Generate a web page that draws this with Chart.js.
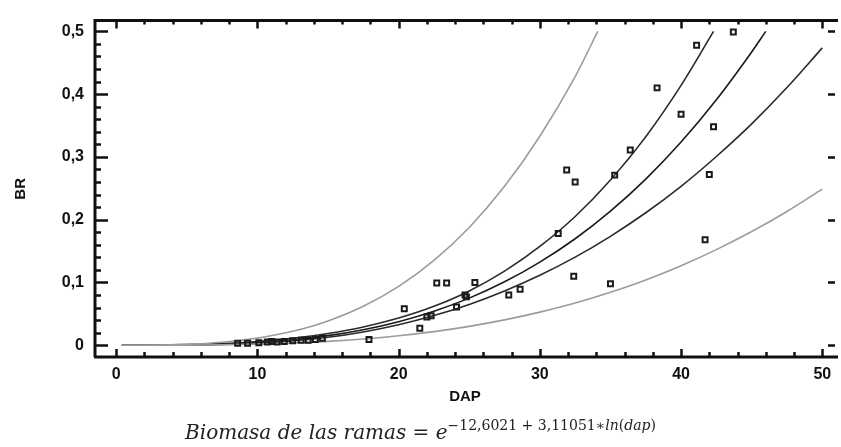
<!DOCTYPE html>
<html>
<head>
<meta charset="utf-8">
<script src="https://cdn.jsdelivr.net/npm/chart.js@4/dist/chart.umd.min.js"></script>
<style>
  html, body { margin: 0; padding: 0; background: #fff; }
  #wrap { position: relative; width: 841px; height: 447px; }
  #caption {
    position: absolute; left: 0; top: 417px; width: 841px; text-align: center;
    font-family: "DejaVu Serif", serif; font-size: 20px; color: #222; white-space: nowrap;
  }
  #caption sup { font-size: 14px; font-style: normal; vertical-align: 9px; }
</style>
</head>
<body>
<div id="wrap">
  <canvas id="brChart" width="841" height="447"></canvas>
  <div id="caption"><i>Biomasa de las ramas</i> = <i>e</i><sup>−12,6021 + 3,11051∗<i>ln</i>(<i>dap</i>)</sup></div>
</div>
<script>
// observaciones (DAP, BR)
const dapObs = [8.6, 9.3, 10.1, 10.7, 11.0, 11.4, 11.9, 12.5, 13.1, 13.6, 14.1, 14.6,
  17.9, 20.4, 21.5, 22.0, 22.3, 22.7, 23.4, 24.1, 24.7, 24.8, 25.4, 27.8, 28.6,
  31.3, 31.9, 32.4, 32.5, 35.0, 35.3, 36.4, 38.3, 40.0, 41.1, 41.7, 42.0, 42.3, 43.7];
const brObs = [0.003, 0.003, 0.004, 0.005, 0.006, 0.005, 0.006, 0.007, 0.008, 0.008, 0.009, 0.011,
  0.009, 0.058, 0.027, 0.045, 0.047, 0.099, 0.099, 0.061, 0.080, 0.077, 0.100, 0.080, 0.089,
  0.178, 0.279, 0.110, 0.260, 0.098, 0.271, 0.311, 0.410, 0.368, 0.478, 0.168, 0.272, 0.348, 0.499];

// curvas: ajuste, límites de confianza y de predicción
const dapGrid = [0.4, 2.5, 5, 7.5, 10, 12.5, 15, 17.5, 20, 22.5, 25, 27.5, 30, 32.5, 35, 37.5, 40, 42.5, 45, 47.5, 50];
const fitBR = [0, 0.00006, 0.0005, 0.0018, 0.0043, 0.0087, 0.0153, 0.0247, 0.0375, 0.0541, 0.0750,
  0.1010, 0.1324, 0.1696, 0.2137, 0.2647, 0.3237, 0.3910, 0.4672];
const fitEnd = [46, 0.5];
const confLowBR = [0, 0.00003, 0.0003, 0.0012, 0.0032, 0.0068, 0.0126, 0.0211, 0.0325, 0.0472, 0.0650,
  0.0865, 0.1115, 0.1403, 0.1735, 0.2110, 0.2531, 0.3007, 0.3527, 0.4105, 0.4737];
const confHighBR = [0, 0.0001, 0.0009, 0.0026, 0.0059, 0.0111, 0.0186, 0.0290, 0.0432, 0.0620, 0.0865,
  0.1180, 0.1573, 0.2050, 0.2633, 0.3322, 0.4140];
const confHighEnd = [42.3, 0.5];
const predLowBR = [0, 0.00002, 0.00017, 0.00066, 0.00167, 0.0034, 0.0061, 0.0099, 0.0150, 0.0216, 0.0300,
  0.0403, 0.0527, 0.0672, 0.0844, 0.1040, 0.1267, 0.1523, 0.1811, 0.2131, 0.2486];
const predHighBR = [0, 0.0002, 0.0014, 0.0048, 0.0113, 0.0222, 0.0387, 0.0620, 0.0937, 0.1352, 0.1876,
  0.2531, 0.3329, 0.4279];
const predHighEnd = [34.1, 0.5];

// ejes
const xTicks = [0, 10, 20, 30, 40, 50];
const xTickLabels = ["0", "10", "20", "30", "40", "50"];
const yTicks = [0, 0.1, 0.2, 0.3, 0.4, 0.5];
const yTickLabels = ["0", "0,1", "0,2", "0,3", "0,4", "0,5"];

const toPoints = (vals, end) => {
  const pts = vals.map((v, i) => ({ x: dapGrid[i], y: v }));
  if (end) pts.push({ x: end[0], y: end[1] });
  return pts;
};

const curve = (data, color, order) => ({
  type: "line",
  data,
  borderColor: color,
  borderWidth: 1.6,
  pointRadius: 0,
  fill: false,
  cubicInterpolationMode: "monotone",
  order,
});

// marco y marcas hacia dentro
const frameTicks = {
  id: "frameTicks",
  afterDraw(chart) {
    const { ctx, chartArea: a, scales: { x, y } } = chart;
    ctx.save();
    ctx.strokeStyle = "#111";
    ctx.lineWidth = 3;
    ctx.beginPath();
    ctx.moveTo(a.left, a.bottom);
    ctx.lineTo(a.left, a.top);
    ctx.lineTo(a.right + 3, a.top);
    ctx.moveTo(a.left - 1, a.bottom);
    ctx.lineTo(a.right + 3, a.bottom);
    ctx.stroke();

    ctx.lineWidth = 2.5;
    ctx.beginPath();
    for (let i = 0; i <= 25; i++) {
      const px = Math.round(x.getPixelForValue(i * 2)) + 0.5;
      const major = i % 5 === 0;
      ctx.moveTo(px, a.bottom);
      ctx.lineTo(px, a.bottom - (major ? 8 : 5));
      ctx.moveTo(px, a.top);
      ctx.lineTo(px, a.top + (major ? 8 : 4));
    }
    for (let i = 0; i <= 25; i++) {
      const py = Math.round(y.getPixelForValue(i * 0.02)) + 0.5;
      const major = i % 5 === 0;
      ctx.moveTo(a.left, py);
      ctx.lineTo(a.left + (major ? 13 : 6), py);
      if (major) {
        ctx.moveTo(a.right, py);
        ctx.lineTo(a.right - 7, py);
      }
    }
    ctx.stroke();
    ctx.restore();
  },
};

const tickFont = { family: "Liberation Sans", size: 16, weight: "bold" };

new Chart(document.getElementById("brChart"), {
  type: "scatter",
  data: {
    datasets: [
      {
        data: dapObs.map((d, i) => ({ x: d, y: brObs[i] })),
        pointStyle: "rect",
        pointRadius: 3.5,
        borderWidth: 2,
        borderColor: "#1a1a1a",
        backgroundColor: "rgba(255,255,255,0)",
        order: 0,
      },
      curve(toPoints(predLowBR), "#9c9c9c", 1),
      curve(toPoints(predHighBR, predHighEnd), "#9c9c9c", 1),
      curve(toPoints(confLowBR), "#2a2a2a", 2),
      curve(toPoints(fitBR, fitEnd), "#1a1a1a", 2),
      curve(toPoints(confHighBR, confHighEnd), "#2a2a2a", 2),
    ],
  },
  options: {
    responsive: false,
    animation: false,
    layout: { padding: { top: 15, right: 0, left: 0, bottom: 0 } },
    plugins: { legend: { display: false }, tooltip: { enabled: false } },
    scales: {
      x: {
        type: "linear",
        min: -1.5,
        max: 50.9,
        afterBuildTicks: (s) => { s.ticks = xTicks.map((v) => ({ value: v })); },
        afterFit: (s) => { s.height = 90; },
        grid: { display: false, drawTicks: false },
        border: { display: false },
        ticks: {
          padding: 8,
          color: "#111",
          font: tickFont,
          callback: (v) => xTickLabels[xTicks.indexOf(v)],
        },
        title: {
          display: true,
          text: "DAP",
          color: "#111",
          font: { family: "Liberation Sans", size: 15, weight: "bold" },
          padding: { top: 0, bottom: 41 },
        },
      },
      y: {
        type: "linear",
        min: -0.0188,
        max: 0.5172,
        afterBuildTicks: (s) => { s.ticks = yTicks.map((v) => ({ value: v })); },
        afterFit: (s) => { s.width = 95; },
        grid: { display: false, drawTicks: false },
        border: { display: false },
        ticks: {
          padding: 11,
          color: "#111",
          font: tickFont,
          callback: (v) => yTickLabels[yTicks.indexOf(v)],
        },
        title: {
          display: true,
          text: "BR",
          color: "#111",
          font: { family: "Liberation Sans", size: 15, weight: "bold" },
          padding: { top: 12, bottom: 0 },
        },
      },
    },
  },
  plugins: [frameTicks],
});
</script>
</body>
</html>
